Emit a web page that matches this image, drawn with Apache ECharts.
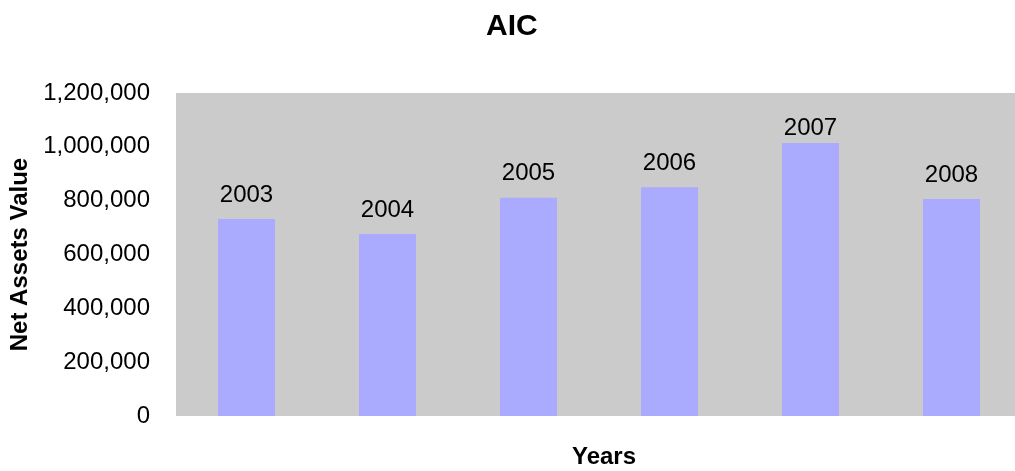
<!DOCTYPE html>
<html>
<head>
<meta charset="utf-8">
<title>AIC</title>
<script src="https://cdn.jsdelivr.net/npm/echarts@6/dist/echarts.min.js"></script>
<style>
  html, body { margin: 0; padding: 0; background: #ffffff; }
  #chart { width: 1015px; height: 471px; }
</style>
</head>
<body>
<div id="chart"></div>
<script>
// Net assets value per year
const years = ['2003', '2004', '2005', '2006', '2007', '2008'];
const netAssets = [732000, 676000, 811000, 850000, 1014000, 806000];
const yTicks = { min: 0, max: 1200000, interval: 200000 };

const FONT = '"Liberation Sans", Arial, Helvetica, sans-serif';

// the tallest bar keeps its year label tucked closer to the bar top
const barData = netAssets.map((v, i) =>
  i === 4 ? { value: v, label: { distance: 3 } } : v
);

const chart = echarts.init(document.getElementById('chart'), null, { renderer: 'canvas' });

chart.setOption({
  animation: false,
  backgroundColor: '#ffffff',
  title: {
    text: 'AIC',
    left: 481,
    top: 7,
    textStyle: { fontFamily: FONT, fontSize: 30, fontWeight: 'bold', color: '#000000' }
  },
  grid: {
    left: 176,
    top: 93,
    width: 846,
    height: 323,
    outerBoundsMode: 'none',
    containLabel: false,
    show: true,
    backgroundColor: '#cbcbcb',
    borderWidth: 0
  },
  xAxis: {
    type: 'category',
    data: years,
    name: 'Years',
    nameLocation: 'middle',
    nameGap: 29,
    nameTextStyle: { fontFamily: FONT, fontSize: 24, fontWeight: 'bold', color: '#000000', padding: [0, 0, 0, 10] },
    axisLine: { show: false },
    axisTick: { show: false },
    axisLabel: { show: false },
    splitLine: { show: false }
  },
  yAxis: {
    type: 'value',
    min: yTicks.min,
    max: yTicks.max,
    interval: yTicks.interval,
    name: 'Net Assets Value',
    nameLocation: 'middle',
    nameGap: 143,
    nameRotate: 90,
    nameTextStyle: { fontFamily: FONT, fontSize: 24, fontWeight: 'bold', color: '#000000' },
    axisLine: { show: false },
    axisTick: { show: false },
    splitLine: { show: false },
    axisLabel: {
      margin: 26,
      padding: [6, 0, 0, 0],
      fontFamily: FONT,
      fontSize: 24,
      color: '#000000',
      formatter: v => v.toLocaleString('en-US')
    }
  },
  series: [{
    type: 'bar',
    data: barData,
    barWidth: 57,
    itemStyle: { color: '#aaaaff' },
    label: {
      show: true,
      position: 'top',
      distance: 12,
      fontFamily: FONT,
      fontSize: 24,
      color: '#000000',
      formatter: p => p.name
    }
  }]
});
</script>
</body>
</html>
